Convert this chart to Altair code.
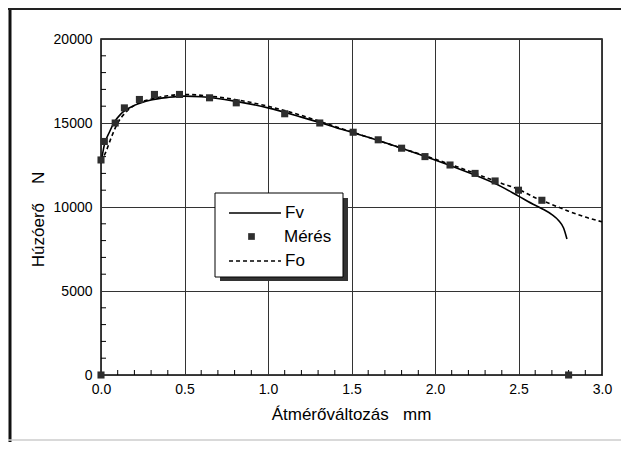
import altair as alt
import pandas as pd

# ---- data ----
meres_x = [0.0, 0.0, 0.02, 0.085, 0.14, 0.23, 0.32, 0.47, 0.65, 0.81, 1.1, 1.31,
           1.51, 1.66, 1.80, 1.94, 2.09, 2.24, 2.36, 2.50, 2.64, 2.80]
meres_y = [0, 12800, 13900, 15000, 15900, 16400, 16700, 16700, 16500, 16200, 15550, 15000,
           14450, 14000, 13500, 13000, 12500, 12000, 11550, 11000, 10400, 0]

fv_x = [0.0, 0.02, 0.05, 0.08, 0.12, 0.2, 0.3, 0.4, 0.5, 0.6, 0.8, 1.0, 1.2, 1.4,
        1.6, 1.8, 2.0, 2.2, 2.4, 2.5, 2.6, 2.65, 2.7, 2.74, 2.77, 2.79]
fv_y = [12600, 13700, 14450, 15050, 15550, 16050, 16370, 16520, 16600, 16560, 16300,
        15900, 15350, 14750, 14150, 13500, 12800, 12050, 11200, 10650, 10100, 9850,
        9550, 9200, 8750, 8100]

fo_x = [0.0, 0.03, 0.06, 0.1, 0.15, 0.2, 0.3, 0.4, 0.5, 0.6, 0.8, 1.0, 1.2, 1.4,
        1.6, 1.8, 2.0, 2.2, 2.4, 2.5, 2.6, 2.7, 2.8, 2.9, 3.0]
fo_y = [12700, 13300, 14100, 15000, 15650, 16050, 16420, 16620, 16700, 16650, 16400,
        16000, 15450, 14800, 14150, 13500, 12850, 12150, 11400, 11050, 10550, 10150,
        9750, 9400, 9120]

x_major = [0.0, 0.5, 1.0, 1.5, 2.0, 2.5, 3.0]
y_major = [0, 5000, 10000, 15000, 20000]
x_minor = [0.1, 0.2, 0.3, 0.4, 0.6, 0.7, 0.8, 0.9, 1.1, 1.2, 1.3, 1.4, 1.6, 1.7, 1.8,
           1.9, 2.1, 2.2, 2.3, 2.4, 2.6, 2.7, 2.8, 2.9]
y_minor = [1000, 2000, 3000, 4000, 6000, 7000, 8000, 9000, 11000, 12000, 13000,
           14000, 16000, 17000, 18000, 19000]

x_title = "Átmérőváltozás\u00a0\u00a0\u00a0mm"
y_title = "Húzóerő\u00a0\u00a0\u00a0\u00a0N"

# ---- tables ----
fv_df = pd.DataFrame({"x": fv_x, "y": fv_y, "series": "Fv"})
fo_df = pd.DataFrame({"x": fo_x, "y": fo_y, "series": "Fo"})
pts_df = pd.DataFrame({"x": meres_x, "y": meres_y, "series": "Mérés"})
xminor_df = pd.DataFrame({"v": x_minor})
yminor_df = pd.DataFrame({"v": y_minor})
one_df = pd.DataFrame({"a": [0]})

W, H = 501, 336
FONT = "Liberation Sans"

x_scale = alt.Scale(domain=[0, 3], nice=False, zero=False)
y_scale = alt.Scale(domain=[0, 20000], nice=False)

LEG = dict(title=None, orient="none", padding=0, labelFont=FONT, labelFontSize=17,
           labelColor="black")
leg_fv = alt.Legend(legendX=127, legendY=147, symbolType="stroke", symbolSize=2700,
                    symbolStrokeColor="black", symbolStrokeWidth=1.3, labelOffset=3, **LEG)
leg_fo = alt.Legend(legendX=127, legendY=195, symbolType="stroke", symbolSize=2700,
                    symbolStrokeColor="black", symbolStrokeWidth=1.3, labelOffset=3,
                    symbolDash=[3, 2], **LEG)
leg_m = alt.Legend(legendX=142, legendY=189, symbolType="square", symbolSize=45,
                   symbolFillColor="#2e2e2e", symbolStrokeWidth=0, labelOffset=24, **LEG)

x_axis = alt.Axis(values=x_major, format=".1f", grid=True, ticks=False, domain=False,
                  labelFlush=False, labelPadding=7, labelFont=FONT, labelFontSize=14,
                  labelColor="black", gridColor="#333333", gridWidth=1,
                  title=x_title, titleFont=FONT, titleFontSize=17, titleFontWeight="normal",
                  titleColor="black", titleX=250, titleY=44, titleBaseline="alphabetic",
                  titleAlign="center")
y_axis = alt.Axis(values=y_major, format="d", grid=True, ticks=False, domain=False,
                  labelFlush=False, labelPadding=9, labelFont=FONT, labelFontSize=14,
                  labelColor="black", gridColor="#333333", gridWidth=1,
                  title=y_title, titleFont=FONT, titleFontSize=17, titleFontWeight="normal",
                  titleColor="black", titleX=-58, titleY=180, titleAngle=-90,
                  titleBaseline="alphabetic", titleAlign="center")

X = alt.X("x:Q", scale=x_scale, axis=x_axis)
Y = alt.Y("y:Q", scale=y_scale, axis=y_axis)

shadow = alt.Chart(one_df).mark_rect(color="#333333").encode(
    x=alt.value(119), x2=alt.value(247), y=alt.value(159), y2=alt.value(242))
box = alt.Chart(one_df).mark_rect(fill="white", stroke="black", strokeWidth=1).encode(
    x=alt.value(114), x2=alt.value(242), y=alt.value(154), y2=alt.value(238))

fv_line = alt.Chart(fv_df).mark_line(strokeWidth=1.6, interpolate="monotone").encode(
    x=X, y=Y,
    color=alt.Color("series:N", scale=alt.Scale(domain=["Fv"], range=["black"]),
                    legend=leg_fv),
)
fo_line = alt.Chart(fo_df).mark_line(strokeWidth=1.6, interpolate="monotone",
                                     color="black").encode(
    x=X, y=Y,
    strokeDash=alt.StrokeDash("series:N",
                              scale=alt.Scale(domain=["Fo"], range=[[4, 3]]),
                              legend=leg_fo),
)
points = alt.Chart(pts_df).mark_point(filled=True, size=50, opacity=1,
                                      color="#2e2e2e").encode(
    x=X, y=Y,
    shape=alt.Shape("series:N", scale=alt.Scale(domain=["Mérés"], range=["square"]),
                    legend=leg_m),
)

xminor = alt.Chart(xminor_df).mark_rule(color="black", strokeWidth=1).encode(
    x=alt.X("v:Q", scale=x_scale, axis=x_axis), y=alt.value(H), y2=alt.value(H - 5))
yminor = alt.Chart(yminor_df).mark_rule(color="black", strokeWidth=1).encode(
    y=alt.Y("v:Q", scale=y_scale, axis=y_axis), x=alt.value(0), x2=alt.value(5))

frame_left = alt.Chart(one_df).mark_rule(color="#111111", strokeWidth=3).encode(
    x=alt.value(-91), y=alt.value(-31), y2=alt.value(403))
frame_top = alt.Chart(one_df).mark_rule(color="#222222", strokeWidth=2).encode(
    x=alt.value(-93), x2=alt.value(520), y=alt.value(-30))
frame_bottom = alt.Chart(one_df).mark_rule(color="#cccccc", strokeWidth=1.5).encode(
    x=alt.value(-93), x2=alt.value(520), y=alt.value(401))

chart = alt.layer(
    xminor, yminor, fv_line, fo_line, points, shadow, box,
    frame_left, frame_top, frame_bottom
).resolve_legend(
    color="independent", strokeDash="independent", shape="independent"
).properties(
    width=W, height=H,
    autosize=alt.AutoSizeParams(type="none"),
    padding={"left": 93, "top": 31, "right": 19, "bottom": 67},
    background="white",
).configure_view(stroke="black", strokeWidth=1.5)

chart.save("out.html", embed_options={"renderer": "svg", "actions": False})
